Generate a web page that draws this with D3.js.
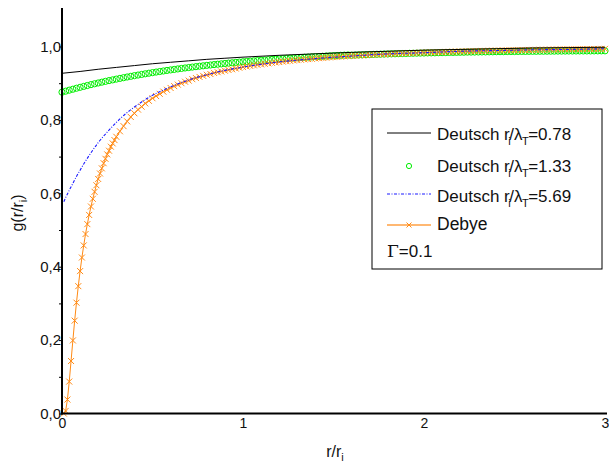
<!DOCTYPE html>
<html><head><meta charset="utf-8">
<script src="https://cdn.jsdelivr.net/npm/d3@7"></script>
<style>
html,body{margin:0;padding:0;background:#fff;}
svg{display:block;font-family:"Liberation Sans",Arial,Helvetica,sans-serif;}
</style></head>
<body>
<svg id="chart" width="609" height="465"></svg>
<script>
// ---------- data ----------
const yTicks = [0, 0.2, 0.4, 0.6, 0.8, 1.0];
const yMinorTicks = [0.1, 0.3, 0.5, 0.7, 0.9];
const xTicks = [0, 1, 2, 3];

// Deutsch r_i/lambda_T = 0.78 (black line)
const blackR = [0,0.1,0.2,0.3,0.4,0.5,0.6,0.7,0.8,0.9,1.0,1.2,1.4,1.6,1.8,2.0,2.2,2.4,2.6,2.8,3.0];
const blackG = [0.927,0.932,0.938,0.943,0.948,0.953,0.957,0.961,0.965,0.968,0.971,0.976,0.980,0.984,0.987,0.990,0.992,0.994,0.996,0.997,0.998];

// Deutsch r_i/lambda_T = 1.33 (green circles), r = 0 .. 3 step 0.02
const greenG = [
0.8755,0.8783,0.8810,0.8836,0.8863,0.8888,0.8913,0.8937,0.8961,0.8984,
0.9006,0.9028,0.9050,0.9071,0.9091,0.9111,0.9131,0.9150,0.9169,0.9187,
0.9205,0.9222,0.9239,0.9256,0.9272,0.9288,0.9303,0.9318,0.9333,0.9348,
0.9362,0.9375,0.9389,0.9402,0.9415,0.9427,0.9439,0.9451,0.9463,0.9474,
0.9486,0.9496,0.9507,0.9517,0.9527,0.9537,0.9547,0.9556,0.9566,0.9575,
0.9584,0.9592,0.9601,0.9609,0.9617,0.9625,0.9632,0.9640,0.9647,0.9654,
0.9661,0.9668,0.9675,0.9682,0.9688,0.9694,0.9700,0.9706,0.9712,0.9718,
0.9724,0.9729,0.9734,0.9740,0.9745,0.9750,0.9755,0.9760,0.9764,0.9769,
0.9763,0.9767,0.9771,0.9774,0.9777,0.9781,0.9784,0.9788,0.9791,0.9794,
0.9797,0.9800,0.9802,0.9806,0.9808,0.9810,0.9814,0.9816,0.9818,0.9821,
0.9823,0.9826,0.9827,0.9829,0.9832,0.9833,0.9835,0.9838,0.9839,0.9840,
0.9843,0.9844,0.9847,0.9848,0.9849,0.9851,0.9852,0.9853,0.9855,0.9856,
0.9858,0.9859,0.9860,0.9862,0.9863,0.9863,0.9865,0.9866,0.9866,0.9868,
0.9869,0.9869,0.9871,0.9871,0.9872,0.9873,0.9874,0.9875,0.9875,0.9876,
0.9877,0.9877,0.9878,0.9879,0.9879,0.9879,0.9880,0.9881,0.9881,0.9882,
0.9882];
const greenR = greenG.map((_, i) => i * 0.02);

// Deutsch r_i/lambda_T = 5.69 (blue dash-dot)
const blueR = [0.01,0.02,0.04,0.06,0.08,0.10,0.12,0.15,0.20,0.25,0.30,0.35,0.40,0.45,0.50,0.60,0.70,0.80,0.90,1.0,1.2,1.4,1.6,1.8,2.0,2.2,2.4,2.6,2.8,3.0];
const blueG = [0.577,0.588,0.608,0.627,0.646,0.663,0.680,0.703,0.738,0.767,0.793,0.816,0.835,0.852,0.867,0.890,0.909,0.923,0.935,0.944,0.958,0.967,0.974,0.980,0.983,0.987,0.989,0.991,0.992,0.994];

// Debye (orange, x markers)
const debyeG1 = [0.000,0.007,0.038,0.087,0.143,0.199,0.253,0.302,0.347,0.388,
0.425,0.458,0.489,0.516,0.541,0.564,0.585,0.604,0.622,0.639,
0.654,0.668,0.682,0.694,0.706,0.716,0.727,0.736,0.745,0.754]; // r = 0.01 .. 0.30 step 0.01
const debyeG2 = [0.769,0.783,0.796,0.808,0.818,0.828,0.836,0.845,0.852,0.859,
0.865,0.871,0.877,0.882,0.887,0.892,0.896,0.900,0.904,0.907,
0.911,0.914,0.917,0.920,0.923,0.925,0.928,0.930,0.932,0.934,
0.936,0.938,0.940,0.942,0.944,
0.9455,0.9471,0.9486,0.9500,0.9514,0.9528,0.9541,0.9554,0.9566,0.9577,
0.9588,0.9599,0.9610,0.9620,0.9630,0.9639,0.9648,0.9657,0.9665,0.9674,
0.9682,0.9689,0.9697,0.9704,0.9711,0.9718,0.9724,0.9731,0.9737,0.9743,
0.9749,0.9755,0.9760,0.9766,0.9771,0.9776,0.9781,0.9786,0.9790,0.9795,
0.9799,0.9804,0.9808,0.9812,0.9816,0.9820,0.9823,0.9827,0.9831,0.9834,
0.9838,0.9841,0.9844,0.9847,0.9850,0.9853,0.9856,0.9859,0.9862,0.9865,
0.9867,0.9870,0.9872,0.9875,0.9877,0.9880,0.9882,0.9884,0.9887,0.9889,
0.9891,0.9893,0.9895,0.9897,0.9899,0.9901,0.9903,0.9904,0.9906,0.9908,
0.9910,0.9911,0.9913,0.9914,0.9916,0.9917,0.9919,0.9920,0.9922,0.9923,
0.9925,0.9926,0.9927,0.9929,0.9930,0.9931,0.9932,0.9933,0.9935,0.9936]; // r = 0.32 .. 3.00 step 0.02
const debyeR = debyeG1.map((_, i) => (i + 1) / 100).concat(debyeG2.map((_, i) => 0.32 + i * 0.02));
const debyeG = debyeG1.concat(debyeG2);

const legendValues = ["0.78", "1.33", "5.69"];

const toPts = (rs, gs) => rs.map((r, i) => ({r: r, g: gs[i]}));
const blackData = toPts(blackR, blackG);
const greenData = toPts(greenR, greenG);
const blueData = toPts(blueR, blueG);
const debyeData = toPts(debyeR, debyeG);

// ---------- drawing ----------
const svg = d3.select("#chart");
const x = d3.scaleLinear().domain([0, 3]).range([62, 605]);
const y = d3.scaleLinear().domain([0, 1.1]).range([413.5, 9.8]);

const ORANGE = "#ff8a14", GREEN = "#00ee00", BLUE = "#1a1aff";
const comma = d => d3.format(".1f")(d).replace(".", ",");
const GR = 3.1, XS = 3.0;

// plot series
const gPlot = svg.append("g");
gPlot.selectAll("circle.green").data(greenData).join("circle")
  .attr("class", "green")
  .attr("cx", d => x(d.r)).attr("cy", d => y(d.g)).attr("r", GR)
  .attr("fill", "none").attr("stroke", GREEN).attr("stroke-width", 1);

const line = d3.line().x(d => x(d.r)).y(d => y(d.g));
gPlot.append("path").datum(debyeData).attr("d", line)
  .attr("fill", "none").attr("stroke", ORANGE).attr("stroke-width", 1);
gPlot.selectAll("path.xm").data(debyeData).join("path")
  .attr("class", "xm")
  .attr("d", d => {
    const cx = x(d.r), cy = y(d.g);
    return `M${cx - XS},${cy - XS}L${cx + XS},${cy + XS}M${cx - XS},${cy + XS}L${cx + XS},${cy - XS}`;
  })
  .attr("stroke", ORANGE).attr("stroke-width", 1).attr("fill", "none");

gPlot.append("path").datum(blueData)
  .attr("d", d3.line().x(d => x(d.r)).y(d => y(d.g)).curve(d3.curveMonotoneX))
  .attr("fill", "none").attr("stroke", BLUE).attr("stroke-width", 1.1)
  .attr("stroke-dasharray", "3,1.5,1,1.5");

gPlot.append("path").datum(blackData)
  .attr("d", d3.line().x(d => x(d.r)).y(d => y(d.g)).curve(d3.curveMonotoneX))
  .attr("fill", "none").attr("stroke", "#000").attr("stroke-width", 1);

// axes
const yAxis = svg.append("g").attr("transform", `translate(${x(0)},0)`)
  .call(d3.axisLeft(y).tickValues(yTicks).tickSize(3).tickSizeOuter(0).tickPadding(-2).tickFormat(comma));
yAxis.select(".domain").remove();
yAxis.selectAll("text").attr("font-size", 15).attr("fill", "#111")
  .attr("font-family", "Liberation Sans, Arial, sans-serif");
const yMinor = svg.append("g").attr("transform", `translate(${x(0)},0)`)
  .call(d3.axisLeft(y).tickValues(yMinorTicks).tickSize(3).tickFormat(""));
yMinor.select(".domain").remove();

const xAxis = svg.append("g").attr("transform", `translate(0,${y(0)})`)
  .call(d3.axisBottom(x).tickValues(xTicks).tickSize(0).tickPadding(5).tickFormat(d3.format("d")));
xAxis.select(".domain").remove();
xAxis.selectAll("text").attr("font-size", 14).attr("fill", "#111")
  .attr("font-family", "Liberation Sans, Arial, sans-serif");

// axis lines
svg.append("line").attr("x1", x(0)).attr("x2", x(0)).attr("y1", y(0) + 1).attr("y2", 8)
  .attr("stroke", "#000").attr("stroke-width", 2);
svg.append("line").attr("x1", x(0) - 1).attr("x2", 607).attr("y1", y(0)).attr("y2", y(0))
  .attr("stroke", "#000").attr("stroke-width", 2);

// axis titles
const xt = svg.append("text").attr("x", 335).attr("y", 457).attr("text-anchor", "middle")
  .attr("font-size", 16).attr("fill", "#111");
xt.append("tspan").text("r/r");
xt.append("tspan").text("i").attr("font-size", 11).attr("dy", 4);

const yt = svg.append("text").attr("transform", "translate(23,213) rotate(-90)")
  .attr("text-anchor", "middle").attr("font-size", 16).attr("fill", "#111");
yt.append("tspan").text("g(r/r");
yt.append("tspan").text("i").attr("font-size", 11).attr("dy", 4);
yt.append("tspan").text(")").attr("dy", -4);

// legend
const lg = svg.append("g");
lg.append("rect").attr("x", 372).attr("y", 109).attr("width", 230).attr("height", 160)
  .attr("fill", "#fff").attr("stroke", "#000").attr("stroke-width", 1);
const symY = [133, 166, 194, 225];
const baseY = [140, 172, 202, 230, 257];
const lx1 = 387, lx2 = 431, tx = 437;
lg.append("line").attr("x1", lx1).attr("x2", lx2).attr("y1", symY[0]).attr("y2", symY[0])
  .attr("stroke", "#000").attr("stroke-width", 1);
lg.append("circle").attr("cx", 409).attr("cy", symY[1]).attr("r", 2.6)
  .attr("fill", "none").attr("stroke", GREEN).attr("stroke-width", 1);
lg.append("line").attr("x1", lx1).attr("x2", lx2).attr("y1", symY[2]).attr("y2", symY[2])
  .attr("stroke", BLUE).attr("stroke-width", 1.1).attr("stroke-dasharray", "3,1.5,1,1.5");
lg.append("line").attr("x1", lx1).attr("x2", lx2).attr("y1", symY[3]).attr("y2", symY[3])
  .attr("stroke", ORANGE).attr("stroke-width", 1.5).attr("opacity", 0.8);
lg.append("path").attr("d", `M${409 - 2.5},${symY[3] - 2.5}L${409 + 2.5},${symY[3] + 2.5}M${409 - 2.5},${symY[3] + 2.5}L${409 + 2.5},${symY[3] - 2.5}`)
  .attr("stroke", ORANGE).attr("stroke-width", 1);

legendValues.forEach((v, i) => {
  const t = lg.append("text").attr("x", tx).attr("y", baseY[i]).attr("font-size", 17).attr("fill", "#111");
  t.append("tspan").text("Deutsch r");
  t.append("tspan").text("i").attr("font-size", 11).attr("dy", 5).attr("dx", -1.5);
  t.append("tspan").text("/λ").attr("dy", -5).attr("dx", -1.5);
  t.append("tspan").text("T").attr("font-size", 11).attr("dy", 5).attr("dx", -0.5);
  t.append("tspan").text("=" + v).attr("dy", -5).attr("dx", -0.5);
});
lg.append("text").attr("x", tx).attr("y", baseY[3]).attr("font-size", 17.5).attr("fill", "#111").text("Debye");
lg.append("text").attr("x", lx1).attr("y", baseY[4]).attr("font-size", 17).attr("fill", "#111")
  .attr("font-family", "DejaVu Serif, serif").text("Γ").append("tspan")
  .attr("font-family", "Liberation Sans, Arial, sans-serif").text("=0.1");
</script>
</body></html>
